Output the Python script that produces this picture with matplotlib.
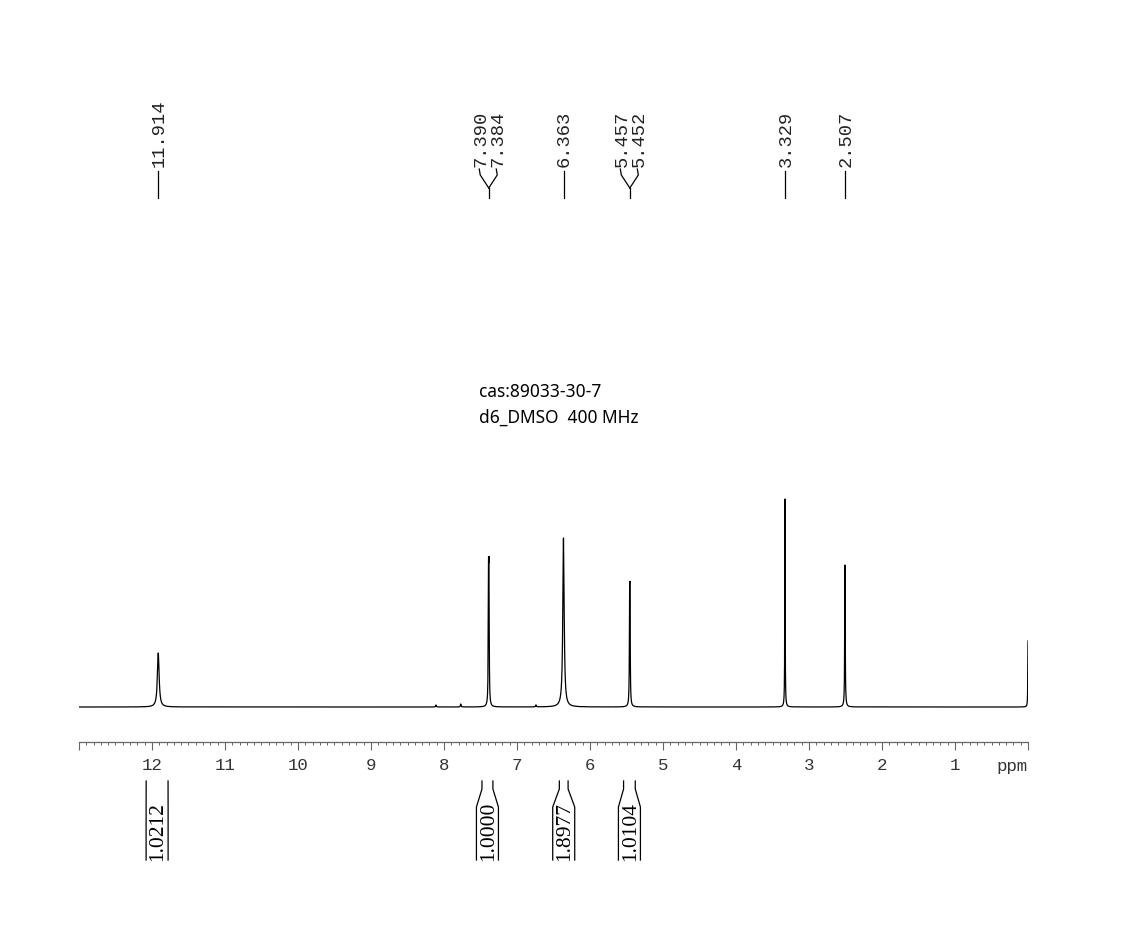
import numpy as np
import matplotlib
matplotlib.use('Agg')
import matplotlib.pyplot as plt
from matplotlib.ticker import MultipleLocator, FixedLocator, FixedFormatter

# Picos del espectro (ppm, altura relativa, semi-anchura en ppm)
peak_ppm = [11.914, 7.390, 7.384, 6.363, 5.457, 5.452, 3.329, 2.507, 0.0, 8.11, 7.77, 6.74]
peak_height = [54, 113, 113, 169, 87, 87, 208, 142, 66, 2, 3, 2]
peak_hwhm = [0.014, 0.004, 0.004, 0.011, 0.004, 0.004, 0.003, 0.004, 0.003, 0.005, 0.005, 0.005]

# Etiquetas de desplazamiento químico
shift_labels = [11.914, 7.390, 7.384, 6.363, 5.457, 5.452, 3.329, 2.507]

# Integrales: rango (ppm) y valor
integral_start = [12.08, 7.48, 6.42, 5.54]
integral_end = [11.78, 7.33, 6.30, 5.38]
integral_values = ['1.0212', '1.0000', '1.8977', '1.0104']

tick_values = list(range(0, 14))
tick_text = [''] + [str(v) for v in range(1, 13)] + ['']

title_lines = ['cas:89033-30-7', 'd6_DMSO  400 MHz']

W, H = 1127, 953
fig = plt.figure(figsize=(W / 100, H / 100), dpi=100)
fig.patch.set_facecolor('white')

# Ejes del espectro
ax = fig.add_axes([79 / W, 1 - 720 / H, 949 / W, 240 / H])
ax.set_xlim(13, 0)
ax.set_ylim(-12, 228)
ax.axis('off')

x = np.linspace(0, 13, 26001)
y = np.zeros_like(x)
for p, h, w in zip(peak_ppm, peak_height, peak_hwhm):
    y += h / (1 + ((x - p) / w) ** 2)
ax.plot(x, y, color='black', lw=0.9)

# Escala ppm
sc = fig.add_axes([79 / W, 1 - 743 / H, 949 / W, 0.01])
sc.set_xlim(13, 0)
sc.set_ylim(0, 1)
for s in ['top', 'left', 'right']:
    sc.spines[s].set_visible(False)
sc.spines['bottom'].set_color('#666666')
sc.spines['bottom'].set_linewidth(0.9)
sc.set_yticks([])
sc.xaxis.set_major_locator(FixedLocator(tick_values))
sc.xaxis.set_major_formatter(FixedFormatter(tick_text))
sc.xaxis.set_minor_locator(MultipleLocator(0.1))
sc.tick_params(axis='x', which='major', direction='out', length=5.5, width=0.8,
               color='#666666', pad=5.5, labelsize=12.5, labelcolor='#333333')
sc.tick_params(axis='x', which='minor', direction='out', length=2.5, width=0.7,
               color='#666666')
for lab in sc.get_xticklabels():
    lab.set_family('Liberation Mono')

# Capa superpuesta en píxeles (y desde arriba)
ov = fig.add_axes([0, 0, 1, 1])
ov.set_xlim(0, W)
ov.set_ylim(H, 0)
ov.axis('off')
ov.patch.set_alpha(0)


def ppm_px(v):
    return ax.transData.transform((v, 0))[0]


ov.text(ppm_px(0.0), 767, 'ppm', ha='right', va='center', fontsize=12.5,
        family='Liberation Mono', color='#333333')

# Etiquetas de picos agrupadas
groups = []
for v in shift_labels:
    if groups and abs(groups[-1][-1] - v) < 0.05:
        groups[-1].append(v)
    else:
        groups.append([v])

for g in groups:
    cx = ppm_px(np.mean(g))
    n = len(g)
    for i, v in enumerate(g):
        lx = cx + (i - (n - 1) / 2) * 17
        ov.text(lx + 1, 167, f'{v:.3f}', rotation=90, ha='center', va='bottom',
                fontsize=13.5, family='Liberation Mono', color='#222222')
        if n > 1:
            ov.plot([lx - 1, lx, cx], [170, 176, 189], color='black', lw=0.9)
    if n > 1:
        ov.plot([cx, cx], [189, 199], color='black', lw=0.9)
    else:
        ov.plot([cx, cx], [172, 199], color='black', lw=0.9)

# Integrales
for a, b, val in zip(integral_start, integral_end, integral_values):
    xa, xb = ppm_px(a), ppm_px(b)
    cx = (xa + xb) / 2
    half = max((xb - xa) / 2, 11)
    for side, xn in [(-1, xa), (1, xb)]:
        xw = cx + side * half
        ov.plot([xn, xn, xw, xw], [782, 790, 808, 861], color='black', lw=0.9)
    ov.text(cx + 1, 861, val, rotation=90, ha='center', va='bottom',
            fontsize=15.5, family='Liberation Serif', color='black')

# Título
ov.text(479, 392, title_lines[0], ha='left', va='center', fontsize=12.5, family='Noto Sans')
ov.text(479, 418, title_lines[1], ha='left', va='center', fontsize=12.5, family='Noto Sans')

fig.savefig('out.png', dpi=100)
